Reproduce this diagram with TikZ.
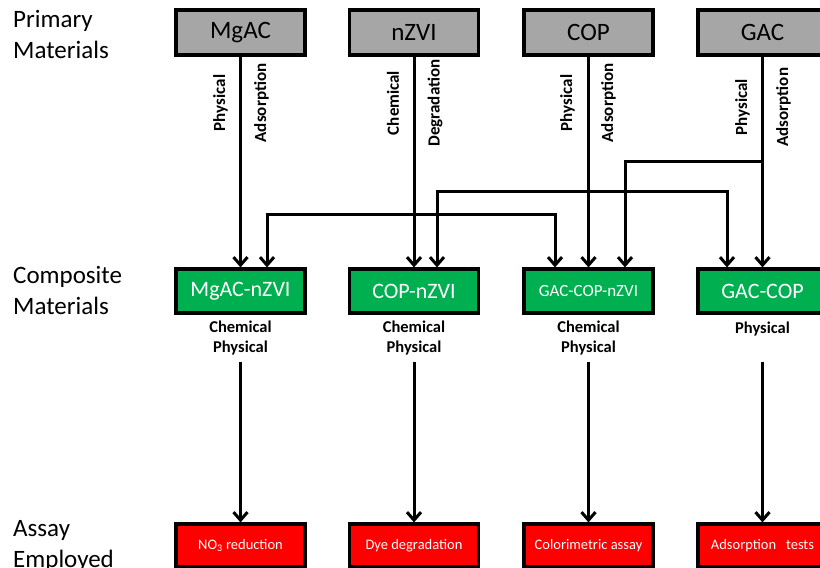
\documentclass[tikz,border=0pt]{standalone}
\usepackage{fontspec}
\setmainfont{Carlito}
\usetikzlibrary{arrows.meta}
\definecolor{boxgray}{RGB}{166,166,166}
\definecolor{boxgreen}{RGB}{0,176,80}
\definecolor{boxred}{RGB}{255,0,0}

\begin{document}
\begin{tikzpicture}[x=1pt,y=-1pt,
  prim/.style={draw=black,line width=3.2pt,fill=boxgray,minimum width=129pt,minimum height=45pt,inner sep=0pt,font=\fontsize{25}{30}\selectfont},
  comp/.style={prim,fill=boxgreen,text=white,minimum height=44pt,font=\fontsize{22}{26}\selectfont},
  assay/.style={prim,fill=boxred,text=white,minimum height=43pt,font=\fontsize{14.5}{17}\selectfont},
  side/.style={align=left,anchor=base west,inner sep=0pt,font=\fontsize{25}{31}\selectfont},
  kind/.style={align=center,anchor=base,inner sep=0pt,font=\bfseries\fontsize{16.5}{19.5}\selectfont},
  vlbl/.style={inner sep=0pt,font=\bfseries\fontsize{17}{19}\selectfont},
  arr/.style={line width=3pt,-{Straight Barb[length=8pt,width=14pt]}}]
\useasboundingbox (0,0) rectangle (820,568);
\clip (0,0) rectangle (820,568);
% row titles
\node[side] (primtitle) at (13,58) {Primary\\Materials};
\node[side] (comptitle) at (13,314) {Composite\\Materials};
\node[side] (assaytitle) at (13,567) {Assay\\Employed};
% primary materials
\node[prim] (mgac) at (240.5,32.5) {MgAC};
\node[prim] (nzvi) at (414,32.5) {nZVI};
\node[prim] (cop) at (588.5,32.5) {COP};
\node[prim] (gac) at (762.5,32.5) {GAC};
% composite materials
\node[comp] (mgacnzvi) at (240.5,291) {MgAC-nZVI};
\node[comp] (copnzvi) at (414,291) {COP-nZVI};
\node[comp,font=\fontsize{17}{20}\selectfont] (gaccopnzvi) at (588.5,291) {GAC-COP-nZVI};
\node[comp] (gaccop) at (762.5,291) {GAC-COP};
\node[kind] (mgacnzvikind) at (240.5,352) {Chemical\\Physical};
\node[kind] (copnzvikind) at (414,352) {Chemical\\Physical};
\node[kind] (gaccopnzvikind) at (588.5,352) {Chemical\\Physical};
\node[kind] (gaccopkind) at (762.5,333) {Physical};
% assays
\node[assay] (no3) at (240.5,545.5) {NO\textsubscript{3} reduction};
\node[assay] (dye) at (414,545.5) {Dye degradation};
\node[assay] (color) at (588.5,545.5) {Colorimetric assay};
\node[assay] (ads) at (762.5,545.5) {Adsorption\ \ \ tests};
% junctions
\coordinate (nzvij) at (414,214);
\coordinate (copj) at (588.5,191);
\coordinate (gacj) at (762.5,161);
% primary -> composite
\draw[arr] (mgac) -- node[pos=.22,xshift=-20pt,rotate=90,vlbl] {Physical}
  node[pos=.22,xshift=21pt,rotate=90,vlbl] {Adsorption} (mgacnzvi);
\draw[arr] (nzvi) -- node[pos=.22,xshift=-21pt,rotate=90,vlbl] {Chemical}
  node[pos=.22,xshift=21pt,rotate=90,vlbl] {Degradation} (copnzvi);
\draw[arr] (cop) -- node[pos=.22,xshift=-21pt,rotate=90,vlbl] {Physical}
  node[pos=.22,xshift=20pt,rotate=90,vlbl] {Adsorption} (gaccopnzvi);
\draw[arr] (gac) -- node[pos=.24,xshift=-20pt,rotate=90,vlbl] {Physical}
  node[pos=.24,xshift=21pt,rotate=90,vlbl] {Adsorption} (gaccop);
\draw[arr] (nzvi) -- (nzvij) -| ([xshift=26.5pt]mgacnzvi.north);
\draw[arr] (nzvi) -- (nzvij) -| ([xshift=-33.5pt]gaccopnzvi.north);
\draw[arr] (cop) -- (copj) -| ([xshift=23pt]copnzvi.north);
\draw[arr] (cop) -- (copj) -| ([xshift=-35.5pt]gaccop.north);
\draw[arr] (gac) -- (gacj) -| ([xshift=36.5pt]gaccopnzvi.north);
% composite -> assay
\draw[arr] ([yshift=-47pt]mgacnzvi.south) -- (no3);
\draw[arr] ([yshift=-47pt]copnzvi.south) -- (dye);
\draw[arr] ([yshift=-47pt]gaccopnzvi.south) -- (color);
\draw[arr] ([yshift=-47pt]gaccop.south) -- (ads);
\end{tikzpicture}
\end{document}
